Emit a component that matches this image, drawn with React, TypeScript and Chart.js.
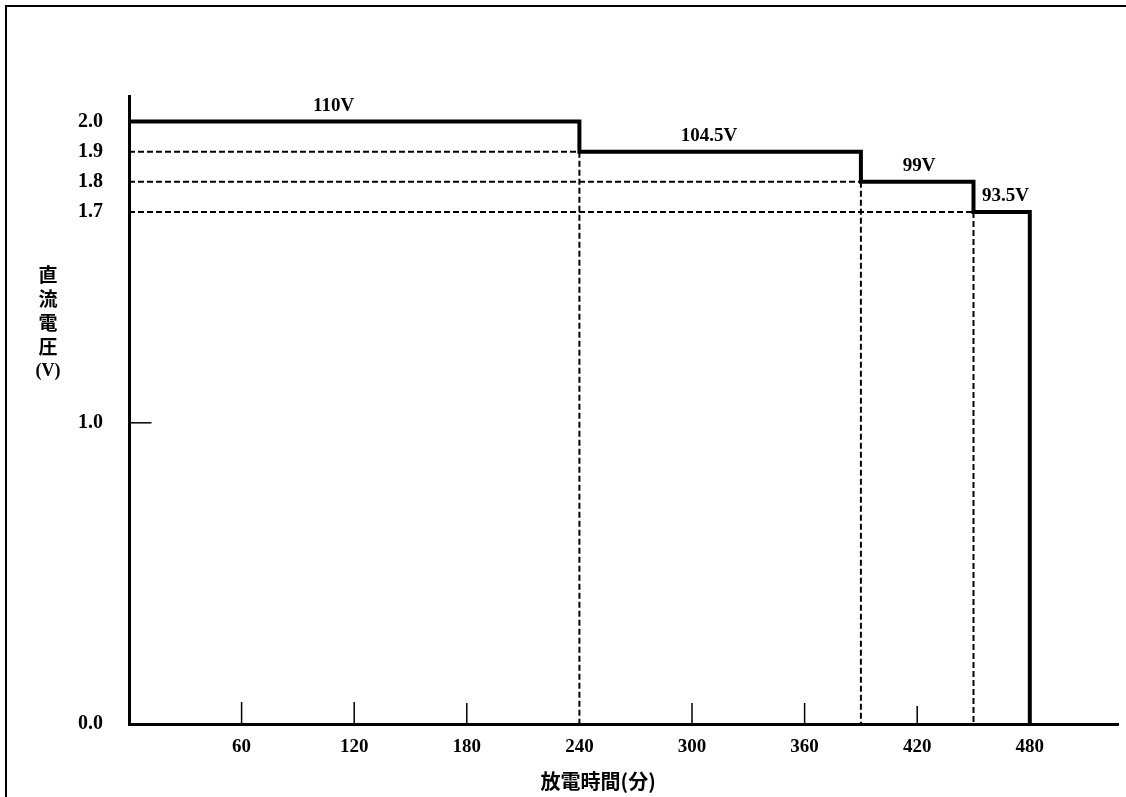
import React, { useEffect, useRef } from "react";
import { Chart, registerables } from "chart.js";

Chart.register(...registerables);

// ---- data ----
const stepTimes = [0, 240, 390, 450, 480]; // minutes where each level starts / ends
const stepVolts = [2.0, 1.9, 1.8, 1.7]; // cell voltage levels
const levelLabels = ["110V", "104.5V", "99V", "93.5V"];
const levelLabelX = [109, 309, 421, 467];
const xTickValues = [60, 120, 180, 240, 300, 360, 420, 480];
const xTickMarks = [60, 120, 180, 300, 360, 420];
const xTickMarkTop = [0.073, 0.073, 0.07, 0.07, 0.07, 0.06];
const yTickValues = [0, 1.0, 1.7, 1.8, 1.9, 2.0];
const yTickMark = [{ x: 0, y: 1.0 }, { x: 12, y: 1.0 }];
const xTitle = "放電時間(分)";
const yTitleChars = ["直", "流", "電", "圧", "(V)"];

const X_MAX = 527;
const Y_MAX = 2.085;

export default function App() {
  const ref = useRef<HTMLCanvasElement | null>(null);

  useEffect(() => {
    const canvas = ref.current;
    if (!canvas) return;

    // step line
    const stepPts: any[] = [];
    for (let i = 0; i < stepVolts.length; i++) {
      stepPts.push({ x: stepTimes[i], y: stepVolts[i] });
      stepPts.push({ x: stepTimes[i + 1], y: stepVolts[i] });
    }
    stepPts.push({ x: stepTimes[stepTimes.length - 1], y: 0 });

    // dashed guide lines
    const hDash: any[] = [];
    const vDash: any[] = [];
    for (let i = 1; i < stepVolts.length; i++) {
      hDash.push({ x: 0, y: stepVolts[i] }, { x: stepTimes[i], y: stepVolts[i] }, { x: stepTimes[i], y: null });
      vDash.push({ x: stepTimes[i], y: stepVolts[i] }, { x: stepTimes[i], y: 0 }, { x: stepTimes[i], y: null });
    }

    const tickPts: any[] = [];
    xTickMarks.forEach((t, i) => {
      tickPts.push({ x: t, y: 0 }, { x: t, y: xTickMarkTop[i] }, { x: t, y: null });
    });

    const decor = {
      id: "decor",
      afterDraw(chart: any) {
        const ctx = chart.ctx;
        const xs = chart.scales.x;
        const ys = chart.scales.y;
        ctx.save();
        // frame
        ctx.strokeStyle = "#000";
        ctx.lineWidth = 2;
        ctx.beginPath();
        ctx.moveTo(6, chart.height);
        ctx.lineTo(6, 6);
        ctx.lineTo(chart.width, 6);
        ctx.stroke();
        // level labels
        ctx.fillStyle = "#000";
        ctx.font = "bold 19px 'Liberation Serif', serif";
        ctx.textAlign = "center";
        ctx.textBaseline = "middle";
        levelLabels.forEach((t, i) => {
          ctx.fillText(t, xs.getPixelForValue(levelLabelX[i]), ys.getPixelForValue(stepVolts[i]) - 16);
        });
        // x title
        ctx.font = "bold 20px 'Noto Sans CJK JP', sans-serif";
        ctx.fillText(xTitle, xs.getPixelForValue(250), chart.chartArea.bottom + 57);
        // y title stacked
        yTitleChars.forEach((c, i) => {
          ctx.font = c === "(V)" ? "bold 18px 'Liberation Serif', serif" : "bold 19px 'Noto Sans CJK JP', sans-serif";
          ctx.fillText(c, 48, 275 + i * 24);
        });
        ctx.restore();
      },
    };

    const chart = new Chart(canvas, {
      type: "line",
      data: {
        datasets: [
          {
            data: stepPts,
            borderColor: "#000",
            borderWidth: 4,
            pointRadius: 0,
            order: 0,
            clip: false,
          },
          {
            data: hDash,
            borderColor: "#000",
            borderWidth: 2,
            borderDash: [6, 3],
            pointRadius: 0,
            spanGaps: false,
            order: 2,
          },
          {
            data: vDash,
            borderColor: "#000",
            borderWidth: 2,
            borderDash: [6, 3],
            pointRadius: 0,
            spanGaps: false,
            order: 2,
          },
          {
            data: tickPts,
            borderColor: "#000",
            borderWidth: 1.5,
            pointRadius: 0,
            spanGaps: false,
            order: 3,
          },
          {
            data: yTickMark,
            borderColor: "#000",
            borderWidth: 1.5,
            pointRadius: 0,
            order: 3,
          },
        ],
      },
      options: {
        animation: false,
        responsive: false,
        devicePixelRatio: 1,
        parsing: true,
        layout: { padding: { top: 96, right: 8, left: 0, bottom: 0 } },
        plugins: { legend: { display: false }, tooltip: { enabled: false }, title: { display: false } },
        elements: { line: { tension: 0 } },
        scales: {
          x: {
            type: "linear",
            min: 0,
            max: X_MAX,
            grid: { display: false, drawTicks: false },
            border: { display: true, color: "#000", width: 3 },
            afterBuildTicks: (s: any) => {
              s.ticks = xTickValues.map((v) => ({ value: v }));
            },
            afterFit: (s: any) => {
              s.height = 73;
            },
            ticks: {
              color: "#000",
              padding: 12,
              autoSkip: false,
              maxRotation: 0,
              font: { family: "'Liberation Serif', serif", size: 19, weight: "bold" },
              callback: (v: any) => String(v),
            },
          },
          y: {
            type: "linear",
            min: 0,
            max: Y_MAX,
            grid: { display: false, drawTicks: false },
            border: { display: true, color: "#000", width: 3 },
            afterBuildTicks: (s: any) => {
              s.ticks = yTickValues.map((v) => ({ value: v }));
            },
            afterFit: (s: any) => {
              s.width = 129;
            },
            ticks: {
              color: "#000",
              padding: 26,
              autoSkip: false,
              font: { family: "'Liberation Serif', serif", size: 20, weight: "bold" },
              callback: (v: any) => Number(v).toFixed(1),
            },
          },
        },
      },
      plugins: [decor],
    } as any);

    return () => chart.destroy();
  }, []);

  return (
    <div style={{ position: "absolute", left: 0, top: 0, width: 1126, height: 797, background: "#fff" }}>
      <canvas ref={ref} width={1126} height={797} style={{ display: "block" }} />
    </div>
  );
}
